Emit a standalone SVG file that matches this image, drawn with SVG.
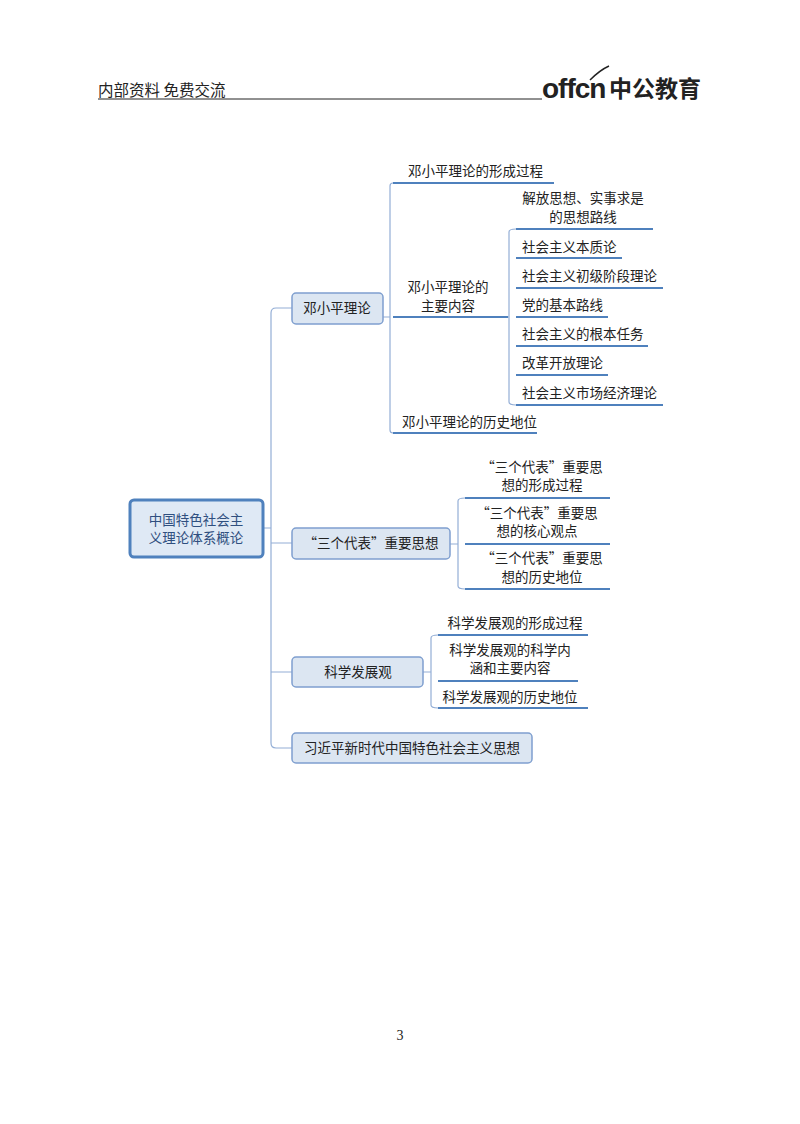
<svg xmlns="http://www.w3.org/2000/svg" width="800" height="1124" viewBox="0 0 800 1124">
<style>
text{font-family:"Noto Sans CJK SC","Liberation Sans",sans-serif;font-size:13.5px;fill:#222;}
.box{fill:#dce6f2;stroke:#7f9fcf;stroke-width:1.5;}
.root{fill:#dfe9f5;stroke:#4f81bd;stroke-width:3;}
.ln{fill:none;stroke:#93aed6;stroke-width:1.2;}
.ul{fill:none;stroke:#4f81bd;stroke-width:2;}
.c{text-anchor:middle;}
</style>
<rect width="800" height="1124" fill="#fff"/>
<g id="header">
<text x="98" y="96" style="font-size:15.5px">内部资料 免费交流</text>
<line x1="98" y1="99" x2="542" y2="99" stroke="#222" stroke-width="1"/>
<text x="542" y="98" style="font-family:'Liberation Sans',sans-serif;font-size:28px;font-weight:bold;letter-spacing:-1px">offcn</text>
<path d="M590 80 Q600 70 609 66" fill="none" stroke="#222" stroke-width="1.5"/>
<text x="609" y="97" style="font-size:23px;font-weight:bold">中公教育</text>
</g>
<g id="connectors">
<path class="ln" d="M263 528 H271 M292 308 H276 Q271 308 271 313 V743 Q271 748 276 748 H292 M271 543 H292 M271 672 H292"/>
<path class="ln" d="M383 317 H390 M393 183 Q390 183 390 186 V430 Q390 433 393 433"/>
<path class="ln" d="M508 317 H509 M516 229 Q509 229 509 232 V402 Q509 405 516 405"/>
<path class="ln" d="M450 544 H458 M465 498 Q458 498 458 501 V586 Q458 589 465 589"/>
<path class="ln" d="M423 672 H431 M438 635 Q431 635 431 638 V705 Q431 708 438 708"/>
<path class="ul" d="M393 183 H554 M393 317 H508 M393 433 H537"/>
<path class="ul" d="M516 229 H653 M516 258 H622 M516 288 H663 M516 317 H608 M516 346 H648 M516 375 H608 M516 405 H663"/>
<path class="ul" d="M465 498 H610 M465 544 H610 M465 589 H610"/>
<path class="ul" d="M438 635 H588 M438 681 H578 M438 708 H588"/>
</g>
<g id="root"><rect class="root" x="130" y="500" width="133" height="57" rx="4"/>
<text class="c" x="196" y="525" style="fill:#2f4f7f">中国特色社会主</text><text class="c" x="196" y="543" style="fill:#2f4f7f">义理论体系概论</text></g>
<g id="dxp"><rect class="box" x="292" y="293" width="91" height="31" rx="4"/><text class="c" x="337" y="313">邓小平理论</text></g>
<g id="dxp1"><text x="408" y="176">邓小平理论的形成过程</text></g>
<g id="dxp2"><text class="c" x="448" y="292">邓小平理论的</text><text class="c" x="448" y="311">主要内容</text></g>
<g id="dxp3"><text x="402" y="427">邓小平理论的历史地位</text></g>
<g id="s1"><text class="c" x="583" y="203">解放思想、实事求是</text><text class="c" x="583" y="222">的思想路线</text></g>
<g id="s2"><text x="522" y="252">社会主义本质论</text></g>
<g id="s3"><text x="522" y="281">社会主义初级阶段理论</text></g>
<g id="s4"><text x="522" y="310">党的基本路线</text></g>
<g id="s5"><text x="522" y="339">社会主义的根本任务</text></g>
<g id="s6"><text x="522" y="368">改革开放理论</text></g>
<g id="s7"><text x="522" y="398">社会主义市场经济理论</text></g>
<g id="sgdb"><rect class="box" x="292" y="528" width="158" height="31" rx="4"/><text class="c" x="371" y="548">“三个代表”重要思想</text></g>
<g id="sg1"><text class="c" x="542" y="472">“三个代表”重要思</text><text class="c" x="542" y="490">想的形成过程</text></g>
<g id="sg2"><text class="c" x="537" y="518">“三个代表”重要思</text><text class="c" x="537" y="536">想的核心观点</text></g>
<g id="sg3"><text class="c" x="542" y="563">“三个代表”重要思</text><text class="c" x="542" y="582">想的历史地位</text></g>
<g id="kxfzg"><rect class="box" x="292" y="657" width="131" height="30" rx="4"/><text class="c" x="358" y="677">科学发展观</text></g>
<g id="k1"><text class="c" x="515" y="628">科学发展观的形成过程</text></g>
<g id="k2"><text class="c" x="510" y="655">科学发展观的科学内</text><text class="c" x="510" y="673">涵和主要内容</text></g>
<g id="k3"><text class="c" x="510" y="702">科学发展观的历史地位</text></g>
<g id="xjp"><rect class="box" x="292" y="733" width="240" height="30" rx="4"/><text class="c" x="412" y="753">习近平新时代中国特色社会主义思想</text></g>
<text x="400" y="1040" style="font-family:'Liberation Serif',serif;font-size:14px" class="c">3</text>
</svg>
